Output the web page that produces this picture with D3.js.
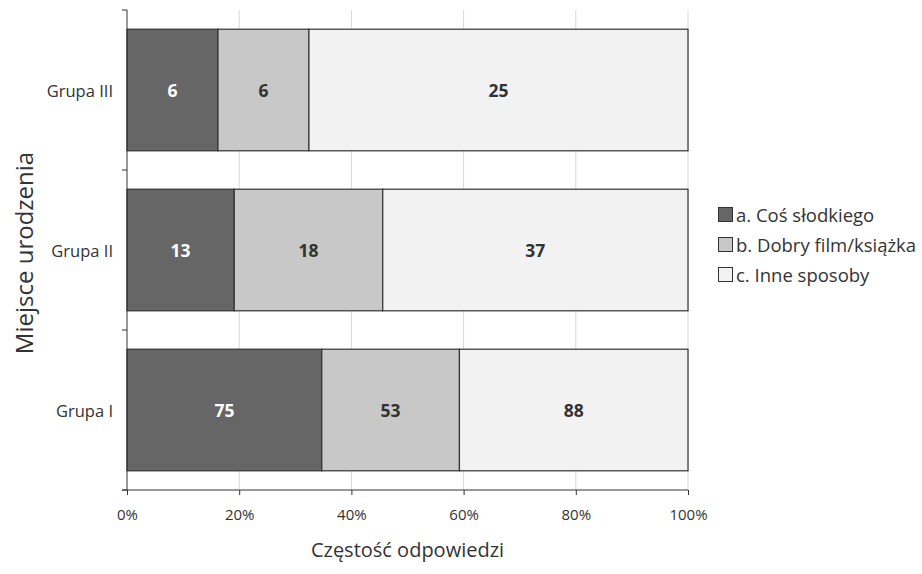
<!DOCTYPE html>
<html>
<head>
<meta charset="utf-8">
<script src="https://cdn.jsdelivr.net/npm/d3@7"></script>
<style>
  body { margin: 0; background: #fff; }
  text { font-family: "Open Sans", sans-serif; }
</style>
</head>
<body>
<div id="chart"></div>
<script>
// groups, bottom to top as drawn
var groups = ["Grupa I", "Grupa II", "Grupa III"];
var keys = ["a. Coś słodkiego", "b. Dobry film/książka", "c. Inne sposoby"];
var sweet = [75, 13, 6];
var filmBook = [53, 18, 6];
var other = [88, 37, 25];
var xTicks = [0, 0.2, 0.4, 0.6, 0.8, 1];

var colors = ["#666666", "#c8c8c8", "#f2f2f2"];
var labelColors = ["#ffffff", "#333333", "#333333"];

var dataset = groups.map(function(g, i) {
    var row = { group: g };
    row[keys[0]] = sweet[i];
    row[keys[1]] = filmBook[i];
    row[keys[2]] = other[i];
    return row;
});

var w = 922, h = 574;
var mLeft = 127, mRight = 688, mTop = 10, mBottom = 490;

var stack = d3.stack().keys(keys).offset(d3.stackOffsetExpand);
var series = stack(dataset);

var xScale = d3.scaleLinear().domain([0, 1]).range([mLeft, mRight]);
var yScale = d3.scaleBand()
    .domain(groups.slice().reverse())
    .range([mTop, mBottom])
    .paddingInner(0.24)
    .paddingOuter(0.12);

var svg = d3.select("#chart").append("svg")
    .attr("width", w)
    .attr("height", h);

// gridlines
svg.append("g")
    .selectAll("line")
    .data(xTicks.slice(1))
    .enter()
    .append("line")
    .attr("x1", function(d) { return xScale(d); })
    .attr("x2", function(d) { return xScale(d); })
    .attr("y1", mTop)
    .attr("y2", mBottom)
    .attr("stroke", "#d9d9d9")
    .attr("stroke-width", 1);

// bars
var layers = svg.selectAll("g.layer")
    .data(series)
    .enter()
    .append("g")
    .attr("class", "layer")
    .style("fill", function(d, i) { return colors[i]; });

layers.selectAll("rect")
    .data(function(d) { return d; })
    .enter()
    .append("rect")
    .attr("x", function(d) { return xScale(d[0]); })
    .attr("y", function(d) { return yScale(d.data.group); })
    .attr("width", function(d) { return xScale(d[1]) - xScale(d[0]); })
    .attr("height", yScale.bandwidth())
    .attr("stroke", "#333333")
    .attr("stroke-width", 1.2);

// value labels
layers.selectAll("text")
    .data(function(d) { return d.map(function(p) { p.key = d.key; p.idx = d.index; return p; }); })
    .enter()
    .append("text")
    .attr("x", function(d) { return (xScale(d[0]) + xScale(d[1])) / 2; })
    .attr("y", function(d) { return yScale(d.data.group) + yScale.bandwidth() / 2; })
    .attr("text-anchor", "middle")
    .attr("dominant-baseline", "central")
    .style("font-size", "17.5px")
    .style("font-weight", "bold")
    .style("fill", function(d) { return labelColors[d.idx]; })
    .text(function(d) { return d.data[d.key]; });

// x axis
var xAxis = svg.append("g")
    .attr("transform", "translate(0," + mBottom + ")")
    .call(d3.axisBottom(xScale).tickValues(xTicks).tickFormat(d3.format(".0%")).tickSizeOuter(0).tickSize(5).tickPadding(14));
xAxis.select(".domain").remove();
xAxis.append("line")
    .attr("x1", mLeft - 5).attr("x2", mRight)
    .attr("stroke", "#333333");
xAxis.selectAll(".tick line").attr("stroke", "#333333");
xAxis.selectAll(".tick text")
    .style("font-size", "15px")
    .style("font-family", "Open Sans, sans-serif")
    .attr("fill", "#333333");

// y axis
var yAxis = svg.append("g");
yAxis.append("line")
    .attr("x1", mLeft).attr("x2", mLeft)
    .attr("y1", mTop).attr("y2", mBottom)
    .attr("stroke", "#333333");
yAxis.selectAll("line.tk")
    .data(d3.range(groups.length + 1))
    .enter()
    .append("line")
    .attr("class", "tk")
    .attr("x1", mLeft - 5).attr("x2", mLeft)
    .attr("y1", function(i) { return mTop + (mBottom - mTop) * i / groups.length; })
    .attr("y2", function(i) { return mTop + (mBottom - mTop) * i / groups.length; })
    .attr("stroke", "#333333");
yAxis.selectAll("text")
    .data(groups)
    .enter()
    .append("text")
    .attr("x", mLeft - 14)
    .attr("y", function(d) { return yScale(d) + yScale.bandwidth() / 2; })
    .attr("text-anchor", "end")
    .attr("dominant-baseline", "central")
    .style("font-size", "16.5px")
    .style("fill", "#333333")
    .text(function(d) { return d; });

// axis titles
svg.append("text")
    .attr("x", (mLeft + mRight) / 2)
    .attr("y", 557)
    .attr("text-anchor", "middle")
    .style("font-size", "20px")
    .style("fill", "#333333")
    .text("Częstość odpowiedzi");

svg.append("text")
    .attr("transform", "translate(33," + ((mTop + mBottom) / 2 + 3) + ") rotate(-90)")
    .attr("text-anchor", "middle")
    .style("font-size", "24px")
    .style("fill", "#333333")
    .text("Miejsce urodzenia");

// legend
var size = 14;
var legend = svg.append("g");
legend.selectAll("rect")
    .data(keys)
    .enter()
    .append("rect")
    .attr("x", 718.5)
    .attr("y", function(d, i) { return 207.5 + i * 30; })
    .attr("width", size)
    .attr("height", size)
    .attr("stroke", "#333333")
    .attr("stroke-width", 1)
    .style("fill", function(d, i) { return colors[i]; });
legend.selectAll("text")
    .data(keys)
    .enter()
    .append("text")
    .attr("x", 736)
    .attr("y", function(d, i) { return 207.5 + i * 30 + size / 2; })
    .attr("dominant-baseline", "central")
    .style("font-size", "18.5px")
    .style("fill", "#333333")
    .text(function(d) { return d; });
</script>
</body>
</html>
